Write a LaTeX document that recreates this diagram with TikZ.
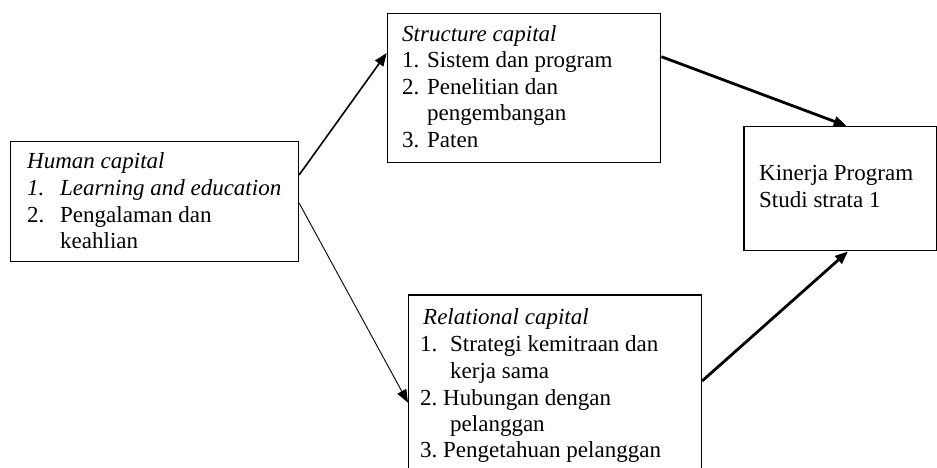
\documentclass[tikz,border=0pt]{standalone}
\usepackage{fontspec}
\setmainfont{Liberation Serif}
\usetikzlibrary{arrows.meta,calc}
\begin{document}
\begin{tikzpicture}[x=1pt,y=-1pt,
  box/.style={draw,line width=1.4pt,rectangle,inner sep=0pt,anchor=north west},
  txt/.style={anchor=base west,inner sep=0pt,font=\fontsize{23}{26}\selectfont},
  arr/.style={-{Triangle[length=13pt,width=10pt]}}]
\useasboundingbox (0,0) rectangle (937,468);
% boxes
\node[box,minimum width=287.7pt,minimum height=120pt] (hum) at (10,141) {};
\node[box,minimum width=273.3pt,minimum height=149pt] (str) at (386.7,12.7) {};
\node[box,minimum width=193pt,minimum height=124pt] (kin) at (743.3,126) {};
\node[box,minimum width=292.7pt,minimum height=190pt] (rel) at (408,294.3) {};
% human capital text
\node[txt] (h1) at (27,168) {\textit{Human capital}};
\node[txt] (h2) at (27,195) {\textit{1.}};
\node[txt] (h3) at (60,195) {\textit{Learning and education}};
\node[txt] (h4) at (27,222) {2.};
\node[txt] (h5) at (60,222) {Pengalaman dan};
\node[txt] (h6) at (60,248) {keahlian};
% structure capital text
\node[txt] (s1) at (402,41.7) {\textit{Structure capital}};
\node[txt] (s2) at (402,68) {1.};
\node[txt] (s3) at (427,68) {Sistem dan program};
\node[txt] (s4) at (402,95) {2.};
\node[txt] (s5) at (427,95) {Penelitian dan};
\node[txt] (s6) at (427,121) {pengembangan};
\node[txt] (s7) at (402,148) {3.};
\node[txt] (s8) at (427,148) {Paten};
% relational capital text
\node[txt] (r1) at (423,324) {\textit{Relational capital}};
\node[txt] (r2) at (420,351) {1.};
\node[txt] (r3) at (450,351) {Strategi kemitraan dan};
\node[txt] (r4) at (450,378) {kerja sama};
\node[txt] (r5) at (420,405) {2.};
\node[txt] (r6) at (443,405) {Hubungan dengan};
\node[txt] (r7) at (450,431) {pelanggan};
\node[txt] (r8) at (420,457) {3.};
\node[txt] (r9) at (443,457) {Pengetahuan pelanggan};
% kinerja text
\node[txt] (k1) at (759,180) {Kinerja Program};
\node[txt] (k2) at (759,207) {Studi strata 1};
% connectors
\draw[arr,line width=1.6pt] ($(hum.north east)+(0,34)$) -- ($(str.north west)+(0,40.3)$);
\draw[arr,line width=0.9pt] ($(hum.north east)+(0,62)$) -- ($(rel.north west)+(0,108.4)$);
\draw[arr,line width=2.8pt] ($(str.north east)+(0,44)$) -- ($(kin.north west)+(103.4,0)$);
\draw[arr,line width=2.8pt] ($(rel.north east)+(0,86.7)$) -- ($(kin.south west)+(104.7,0)$);
\end{tikzpicture}
\end{document}
